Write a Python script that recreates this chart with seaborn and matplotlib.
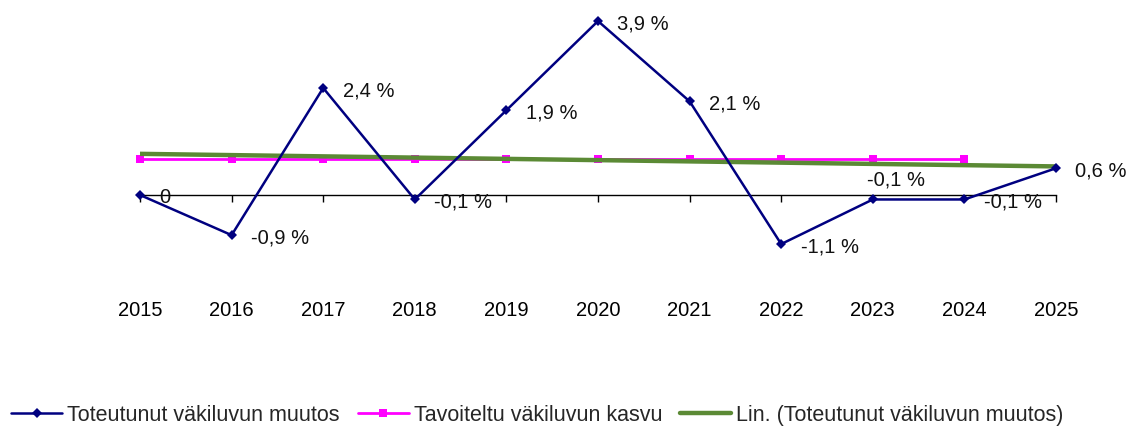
import numpy as np
import pandas as pd
import matplotlib
matplotlib.use('Agg')
import matplotlib.pyplot as plt
import seaborn as sns

# data
years = [2015, 2016, 2017, 2018, 2019, 2020, 2021, 2022, 2023, 2024, 2025]
actual = [0.0, -0.9, 2.4, -0.1, 1.9, 3.9, 2.1, -1.1, -0.1, -0.1, 0.6]
actual_labels = ['0', '-0,9 %', '2,4 %', '-0,1 %', '1,9 %', '3,9 %', '2,1 %',
                 '-1,1 %', '-0,1 %', '-0,1 %', '0,6 %']
target_years = [2015, 2016, 2017, 2018, 2019, 2020, 2021, 2022, 2023, 2024]
target = [0.8, 0.8, 0.8, 0.8, 0.8, 0.8, 0.8, 0.8, 0.8, 0.8]

name_actual = 'Toteutunut väkiluvun muutos'
name_target = 'Tavoiteltu väkiluvun kasvu'
name_trend = 'Lin. (Toteutunut väkiluvun muutos)'

c_blue = '#000080'
c_pink = '#ff00ff'
c_green = '#5b8a35'

sns.set_theme(style='white')
plt.rcParams['font.family'] = ['Liberation Sans', 'DejaVu Sans']
plt.rcParams['font.size'] = 12

fig = plt.figure(figsize=(11.35, 4.26), dpi=100)
ax = fig.add_axes([140 / 1135, 1 - 284.2 / 426, 916 / 1135, 267.6 / 426])

df_a = pd.DataFrame({'year': years, 'value': actual})
df_t = pd.DataFrame({'year': target_years, 'value': target})

sns.lineplot(data=df_t, x='year', y='value', ax=ax, color=c_pink, lw=2,
             marker='s', markersize=6, markeredgewidth=0, label=name_target,
             zorder=2, clip_on=False)
# linear trend of the actual change, fitted by seaborn
sns.regplot(data=df_a, x='year', y='value', ax=ax, scatter=False, ci=None,
            color=c_green, label=name_trend, line_kws={'lw': 3.2, 'zorder': 3})
sns.lineplot(data=df_a, x='year', y='value', ax=ax, color=c_blue, lw=1.8,
             marker='D', markersize=5, markeredgewidth=0, label=name_actual,
             zorder=4, clip_on=False)

# data labels
for i, (yr, v, txt) in enumerate(zip(years, actual, actual_labels)):
    if i == 8:
        ax.annotate(txt, (yr, v), xytext=(-4, 7), textcoords='offset points',
                    ha='left', va='bottom', fontsize=14.5, color='#111111')
    else:
        ax.annotate(txt, (yr, v), xytext=(14, -2), textcoords='offset points',
                    ha='left', va='center', fontsize=14.5, color='#111111')

ax.set_xlim(2015, 2025)
ax.set_ylim(-2, 4)
ax.set_xticks(years)
ax.set_xticklabels([str(y) for y in years])
ax.set_yticks([])
ax.set_xlabel('')
ax.set_ylabel('')
for s in ax.spines.values():
    s.set_visible(False)
ax.tick_params(axis='x', length=0, pad=12, labelsize=14.5, colors='black')

# category axis line crossing at zero
sec = ax.secondary_xaxis(1 / 3)
sec.set_xticks(years)
sec.set_xticklabels([])
sec.tick_params(axis='x', direction='out', length=5, width=1, colors='black')
sec.spines['bottom'].set_visible(True)
sec.spines['bottom'].set_color('black')
sec.spines['bottom'].set_linewidth(1)

h, l = ax.get_legend_handles_labels()
order = [l.index(name_actual), l.index(name_target), l.index(name_trend)]
if ax.get_legend() is not None:
    ax.get_legend().remove()
fig.legend([h[i] for i in order], [l[i] for i in order], loc='center',
           bbox_to_anchor=(0.4736, 0.025), ncol=3, frameon=False, fontsize=15.5,
           handlelength=2.37, handletextpad=0.23, columnspacing=0.84)

fig.savefig('out.png', dpi=100)
